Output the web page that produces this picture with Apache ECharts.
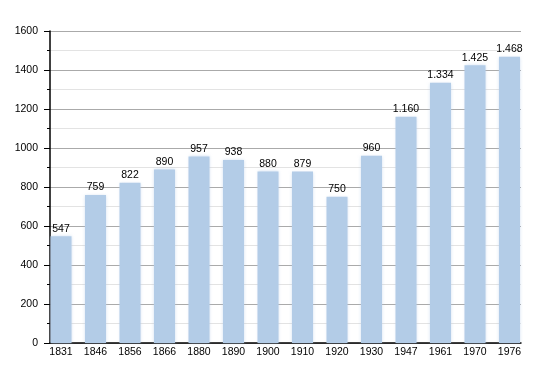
<!DOCTYPE html>
<html><head><meta charset="utf-8">
<script src="https://cdn.jsdelivr.net/npm/echarts@6/dist/echarts.min.js"></script>
<style>html,body{margin:0;padding:0;background:#fff}#c{width:550px;height:373px}</style>
</head><body><div id="c"></div>
<script>
const years = ['1831','1846','1856','1866','1880','1890','1900','1910','1920','1930','1947','1961','1970','1976'];
const population = [547,759,822,890,957,938,880,879,750,960,1160,1334,1425,1468];
const valueLabels = ['547','759','822','890','957','938','880','879','750','960','1.160','1.334','1.425','1.468'];
const yTicks = [0,200,400,600,800,1000,1200,1400,1600];

const chart = echarts.init(document.getElementById('c'), null, {renderer:'canvas'});
const font = 'Liberation Sans, Arial, sans-serif';
chart.setOption({
  animation:false,
  grid:[
    {left:50, top:31, width:471, bottom:30},
    {left:43.75, top:31, width:483, bottom:30}
  ],
  xAxis:[
    {gridIndex:0, type:'category', data:years, show:true,
     axisLine:{show:true, lineStyle:{color:'#000', width:1.5}},
     axisTick:{show:false}, axisLabel:{show:false}},
    {gridIndex:1, type:'category', data:years,
     axisLine:{show:false}, axisTick:{show:false},
     axisLabel:{color:'#000', fontSize:10.5, fontFamily:font, margin:4, interval:0}}
  ],
  yAxis:[
    {gridIndex:0, type:'value', min:yTicks[0], max:yTicks[yTicks.length-1], interval:200,
     axisLine:{show:true, lineStyle:{color:'#000', width:1.5}},
     axisTick:{show:true, length:6, lineStyle:{color:'#000'}},
     minorTick:{show:true, splitNumber:2, length:3, lineStyle:{color:'#000'}},
     splitLine:{show:true, lineStyle:{color:'#aaaaaa', width:1}},
     minorSplitLine:{show:true, lineStyle:{color:'#e3e3e3', width:1}},
     axisLabel:{color:'#000', fontSize:10.5, fontFamily:font, margin:12, formatter:v=>String(v)}},
    {gridIndex:1, type:'value', min:yTicks[0], max:yTicks[yTicks.length-1], show:false,
     splitLine:{show:false}}
  ],
  series:[{
    type:'bar', xAxisIndex:1, yAxisIndex:1, data:population, barWidth:21,
    itemStyle:{color:'#b3cce7', shadowColor:'rgba(179,204,231,0.6)', shadowBlur:3},
    label:{show:true, position:'top', distance:2, color:'#000', fontSize:10.5, fontFamily:font,
      formatter:p=>valueLabels[p.dataIndex]}
  }]
});
</script></body></html>
